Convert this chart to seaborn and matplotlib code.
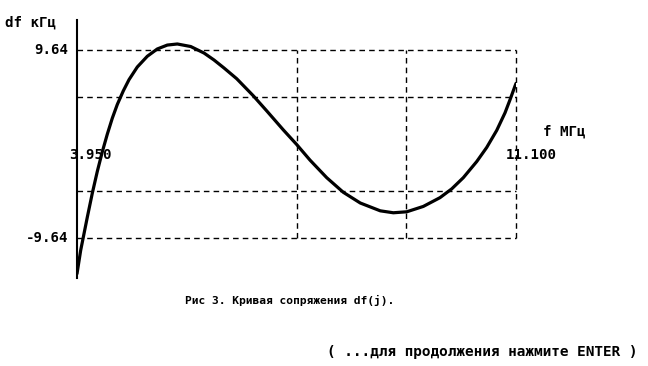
import matplotlib
matplotlib.use("Agg")
import matplotlib.pyplot as plt
import seaborn as sns
import numpy as np
import pandas as pd

# Data
freq_mhz = [3.950, 4.010, 4.118, 4.199, 4.281, 4.362, 4.443, 4.525, 4.606, 4.704,
            4.797, 4.932, 5.095, 5.258, 5.421, 5.584, 5.802, 6.019, 6.181, 6.344,
            6.551, 6.821, 7.040, 7.310, 7.528, 7.745, 8.017, 8.287, 8.564, 8.889,
            9.102, 9.320, 9.590, 9.862, 10.053, 10.242, 10.460, 10.623, 10.786, 10.921,
            11.003, 11.084, 11.100]
df_khz = [-13.30, -10.90, -7.50, -5.05, -2.80, -0.80, 1.00, 2.65, 4.05, 5.45,
          6.60, 7.90, 9.00, 9.75, 10.15, 10.26, 10.00, 9.33, 8.62, 7.80,
          6.70, 4.95, 3.40, 1.45, -0.05, -1.65, -3.45, -4.95, -6.05, -6.85,
          -7.05, -6.95, -6.40, -5.50, -4.60, -3.45, -1.80, -0.35, 1.40, 3.20,
          4.55, 5.95, 6.22]
y_grid = [9.64, 4.82, -4.82, -9.64]
x_grid = [7.525, 9.3125, 11.100]
x_min, x_max = 3.950, 11.100
y_label_top = "9.64"
y_label_bot = "-9.64"
x_label_left = "3.950"
x_label_right = "11.100"
y_title = "df кГц"
x_title = "f МГц"
caption = "Рис 3. Кривая сопряжения df(j)."
prompt = "( ...для продолжения нажмите ENTER )"

sns.set_theme(style="white")
plt.rcParams['font.family'] = ['DejaVu Sans Mono', 'DejaVu Sans']

W, H = 648, 366
fig = plt.figure(figsize=(W / 100, H / 100), dpi=100)
fig.patch.set_facecolor("white")

def fx(px):
    return px / W

def fy(py):
    return 1 - py / H

ax = fig.add_axes([fx(77), fy(278), (516 - 77) / W, (278 - 20) / H])
ax.set_facecolor("white")

data = pd.DataFrame({"f": freq_mhz, "df": df_khz})
sns.lineplot(data=data, x="f", y="df", ax=ax, color="black", linewidth=2.3,
             sort=False, zorder=3)
for ln in ax.lines:
    ln.set_solid_joinstyle("round")
    ln.set_solid_capstyle("round")

ax.set_xlim(x_min, x_max)
ax.set_ylim(-13.74, 12.72)

dash = (0, (4, 3))
for yv in y_grid:
    ax.hlines(yv, x_min, x_max, colors="black", linewidth=1.0, linestyles=dash,
              zorder=2, clip_on=False)
for xv in x_grid:
    ax.vlines(xv, min(y_grid), max(y_grid), colors="black", linewidth=1.0,
              linestyles=dash, zorder=2, clip_on=False)

for s in ["top", "right", "bottom"]:
    ax.spines[s].set_visible(False)
ax.spines["left"].set_color("black")
ax.spines["left"].set_linewidth(1.5)
ax.set_xticks([])
ax.set_yticks([])
ax.set_xlabel("")
ax.set_ylabel("")

fs = 10.2
kw = dict(color="black", fontweight="bold", fontsize=fs, va="center")
fig.text(fx(5), fy(23), y_title, ha="left", **kw)
fig.text(fx(68), fy(50), y_label_top, ha="right", **kw)
fig.text(fx(68), fy(238), y_label_bot, ha="right", **kw)
fig.text(fx(69), fy(155), x_label_left, ha="left", **kw)
fig.text(fx(506), fy(155), x_label_right, ha="left", **kw)
fig.text(fx(543), fy(132), x_title, ha="left", **kw)
fig.text(fx(185), fy(300), caption, ha="left", color="black", fontweight="bold",
         fontsize=8.1, va="center")
fig.text(fx(327), fy(352), prompt, ha="left", color="black", fontweight="bold",
         fontsize=10.4, va="center")

fig.savefig("out.png", dpi=100, facecolor="white")
